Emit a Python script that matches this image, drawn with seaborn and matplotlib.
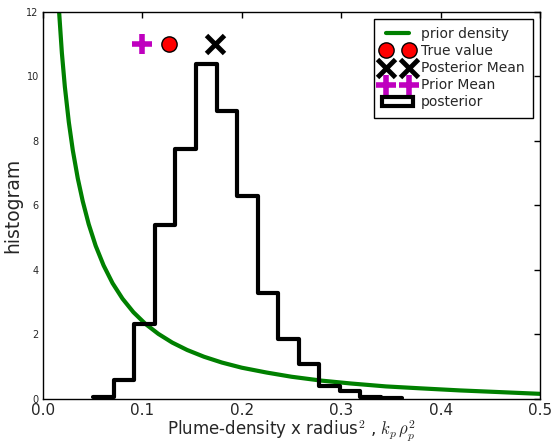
import matplotlib
matplotlib.use("Agg")
import matplotlib.pyplot as plt
import seaborn as sns
from matplotlib.lines import Line2D
from matplotlib.patches import Patch

# histogram of the posterior samples (bin edges and bar heights)
bin_edges = [0.0506, 0.0713, 0.0920, 0.1126, 0.1333, 0.1540, 0.1747, 0.1954,
             0.2160, 0.2367, 0.2574, 0.2781, 0.2988, 0.3194, 0.3401, 0.3608]
post_heights = [0.06, 0.59, 2.32, 5.41, 7.75, 10.39, 8.94, 6.30,
                3.28, 1.87, 1.10, 0.41, 0.25, 0.07, 0.02]

# prior density curve
prior_x = [0.016, 0.019, 0.022, 0.026, 0.030, 0.035, 0.040, 0.046, 0.053, 0.061,
           0.070, 0.080, 0.091, 0.103, 0.116, 0.130, 0.145, 0.162, 0.180, 0.200,
           0.225, 0.250, 0.280, 0.310, 0.345, 0.380, 0.420, 0.460, 0.500]
prior_y = [12.1, 10.73, 9.68, 8.58, 7.71, 6.84, 6.13, 5.42, 4.75, 4.14,
           3.59, 3.11, 2.69, 2.33, 2.02, 1.75, 1.52, 1.31, 1.13, 0.97,
           0.82, 0.69, 0.57, 0.48, 0.39, 0.33, 0.265, 0.213, 0.16]

# summary points
prior_mean = (0.0996, 11.0)
true_value = (0.127, 11.0)
post_mean = (0.173, 11.0)

bin_centers = [(a + b) / 2 for a, b in zip(bin_edges[:-1], bin_edges[1:])]

sns.set_style("white")
plt.rcParams['font.family'] = ['DejaVu Sans']
plt.rcParams['mathtext.fontset'] = 'cm'

fig = plt.figure(figsize=(5.54, 4.42), dpi=100)
ax = fig.add_axes([0.0776, 0.0973, 0.8971, 0.8756])

sns.lineplot(x=prior_x, y=prior_y, sort=False, color='green', linewidth=3, ax=ax)
sns.histplot(x=bin_centers, weights=post_heights, bins=bin_edges, element='step',
             fill=False, color='black', linewidth=3, ax=ax)

ax.plot(*true_value, ls='', marker='o', mfc='red', mec='black', ms=11)
ax.plot(*post_mean, ls='', marker='x', color='black', ms=13, mew=3.5)
ax.plot(*prior_mean, ls='', marker='+', color='m', ms=14, mew=4)

handles = [
    Line2D([], [], color='green', lw=3),
    Line2D([], [], ls='', marker='o', mfc='red', mec='black', ms=11),
    Line2D([], [], ls='', marker='x', color='black', ms=13, mew=3.5),
    Line2D([], [], ls='', marker='+', color='m', ms=14, mew=4),
    Patch(facecolor='white', edgecolor='black', lw=3),
]
labels = ['prior density', 'True value', 'Posterior Mean', 'Prior Mean', 'posterior']
leg = ax.legend(handles, labels, loc='upper right', numpoints=2, fancybox=False,
                framealpha=1, fontsize=10, labelspacing=0.22, handlelength=2.2,
                handletextpad=0.6, borderpad=0.6, borderaxespad=0.5)
leg.get_frame().set_edgecolor('black')

ax.set_xlim(0, 0.5)
ax.set_ylim(0, 12)
ax.set_xticks([0.0, 0.1, 0.2, 0.3, 0.4, 0.5])
ax.set_xticklabels(['0.0', '0.1', '0.2', '0.3', '0.4', '0.5'])
ax.set_yticks([0, 2, 4, 6, 8, 10, 12])
ax.tick_params(direction='in', top=True, right=True, length=4, width=1, color='black')
ax.tick_params(axis='x', labelsize=11, pad=3)
ax.tick_params(axis='y', labelsize=7, pad=3)
for s in ax.spines.values():
    s.set_color('black')
    s.set_linewidth(1)

ax.set_xlabel(r"Plume-density x radius$^2$ , $k_p\,\rho_p^2$", fontsize=12, labelpad=0)
ax.set_ylabel("histogram", fontsize=13.5, labelpad=3)

fig.savefig("out.png", dpi=100)
